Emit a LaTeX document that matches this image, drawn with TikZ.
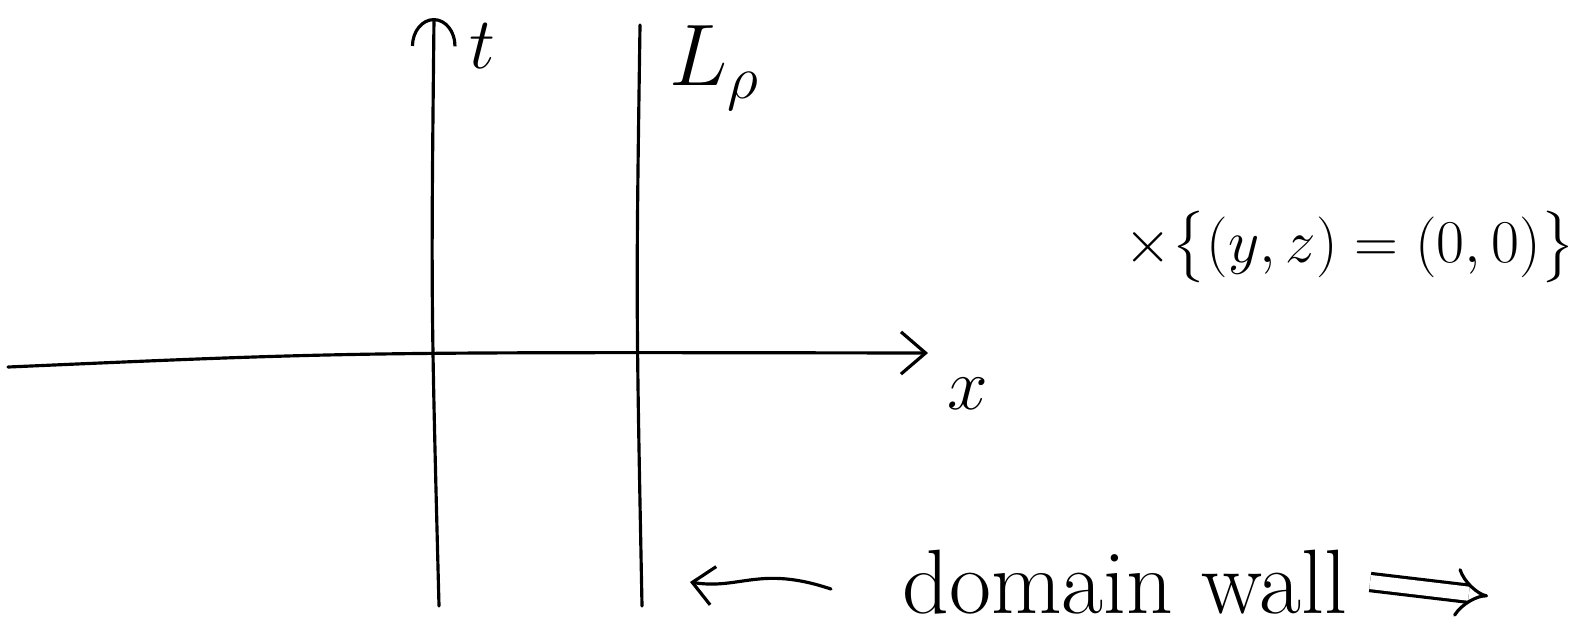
\documentclass[tikz,border=0pt]{standalone}
\usepackage{amsmath,amssymb}
\usetikzlibrary{arrows.meta, positioning}

\begin{document}
\begin{tikzpicture}[x=0.01cm, y=-0.01cm, line width=0.9pt, line cap=round,
  lbl/.style={inner sep=0pt, font=\fontsize{20}{24}\selectfont},
  biglbl/.style={inner sep=0pt, font=\fontsize{26}{30}\selectfont},
  axis/.style={-{Straight Barb[length=7pt, width=12pt]}}]
  \useasboundingbox (0,0) rectangle (1589,635);
  % t axis and x axis
  \coordinate (tlow) at (439,606);
  \coordinate (ttop) at (434,18);
  \coordinate (xleft) at (8,367);
  \coordinate (xright) at (928,353);
  \draw[-{Arc Barb[length=8pt, width=13pt]}] (tlow) .. controls (431,300) .. (ttop);
  \draw[axis] (xleft) .. controls (350,352) .. (xright);
  % domain wall
  \coordinate (wtop) at (640,25);
  \coordinate (wlow) at (642,606);
  \draw (wtop) .. controls (636,300) .. (wlow);
  % labels
  \node[lbl] (t) at (482,46) {$t$};
  \node[lbl] (x) at (968,394) {$x$};
  \node[biglbl] (L) at (715,68) {$L_{\rho}$};
  \node[lbl, font=\fontsize{17}{20}\selectfont] (plane) at (1350,247) {$\times\bigl\{(y,z)=(0,0)\bigr\}$};
  \node[biglbl] (wall) at (1125,582) {domain wall};
  \draw[-{Straight Barb[length=6pt, width=11pt]}] ([xshift=-0.7cm, yshift=-2pt]wall.west) .. controls (760,565) and (740,590) .. (690,582);
  \draw[double, double distance=4pt, line cap=butt, -{Implies}] ([xshift=6pt]wall.east) -- (1488,596);
\end{tikzpicture}
\end{document}
